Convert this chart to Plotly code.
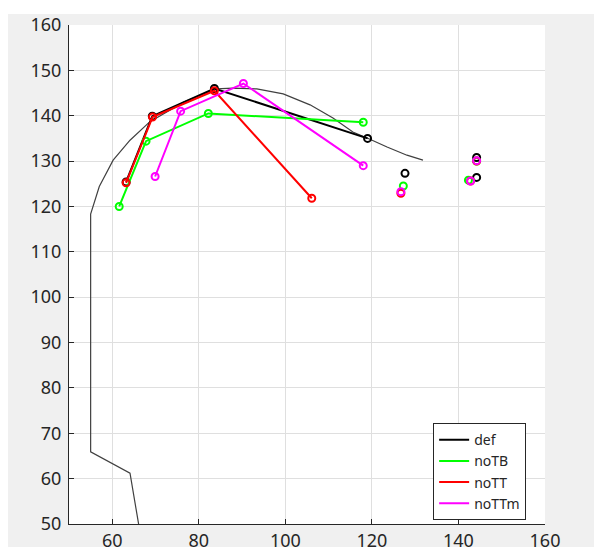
import plotly.graph_objects as go

# ---- data ----
outline_x = [66.6, 64.1, 55.0, 55.0, 57.0, 60.2, 64.1, 68.7, 76.5, 84.0, 87.9, 90.2, 93.4, 99.5, 105.7, 111.0, 115.6, 118.9, 123.5, 128.1, 131.8]
outline_y = [47.1, 61.2, 65.9, 118.3, 124.4, 130.2, 134.6, 138.7, 143.0, 145.9, 146.1, 146.0, 145.9, 144.8, 142.4, 139.5, 136.4, 135.1, 133.1, 131.3, 130.2]

def_x = [63.2, 69.25, 83.6, 119.0]
def_y = [125.4, 139.9, 146.0, 135.0]
def_px = [127.65, 144.2, 144.2]
def_py = [127.3, 130.8, 126.4]

noTB_x = [61.6, 67.8, 82.2, 118.0]
noTB_y = [120.0, 134.4, 140.5, 138.55]
noTB_px = [127.26, 142.3, 144.2]
noTB_py = [124.5, 125.8, 130.0]

noTT_x = [63.2, 69.3, 83.6, 106.1]
noTT_y = [125.2, 139.7, 145.5, 121.8]
noTT_px = [126.7, 142.8, 144.2]
noTT_py = [122.9, 125.6, 130.0]

noTTm_x = [69.9, 75.8, 90.3, 118.0]
noTTm_y = [126.6, 141.0, 147.1, 129.0]
noTTm_px = [126.7, 142.8, 144.2]
noTTm_py = [123.25, 125.6, 130.1]

series = [
    ("def", def_x, def_y, def_px, def_py, "#000000"),
    ("noTB", noTB_x, noTB_y, noTB_px, noTB_py, "#00ff00"),
    ("noTT", noTT_x, noTT_y, noTT_px, noTT_py, "#ff0000"),
    ("noTTm", noTTm_x, noTTm_y, noTTm_px, noTTm_py, "#ff00ff"),
]

x_ticks = [60, 80, 100, 120, 140, 160]
y_ticks = [50, 60, 70, 80, 90, 100, 110, 120, 130, 140, 150, 160]

fig = go.Figure()
fig.add_trace(go.Scatter(x=outline_x, y=outline_y, mode="lines",
                         line=dict(color="rgb(64,64,64)", width=1.2),
                         showlegend=False, hoverinfo="skip"))
for name, x, y, px, py, c in series:
    mk = dict(symbol="circle-open", size=7, color=c, line=dict(color=c, width=2))
    fig.add_trace(go.Scatter(x=x, y=y, mode="lines", name=name,
                             line=dict(color=c, width=2)))
    fig.add_trace(go.Scatter(x=x, y=y, mode="markers", showlegend=False, marker=mk))
    fig.add_trace(go.Scatter(x=px, y=py, mode="markers", showlegend=False, marker=mk))

ax_common = dict(showgrid=True, gridcolor="rgb(223,223,223)", gridwidth=1,
                 showline=True, linecolor="#262626", linewidth=1, mirror=False,
                 ticks="inside", ticklen=5, tickcolor="#262626", zeroline=False,
                 automargin=False,
                 tickfont=dict(family="Noto Sans", size=18, color="#262626"))

fig.update_xaxes(range=[50, 160], tickvals=x_ticks, **ax_common)
fig.update_yaxes(range=[50, 160], tickvals=y_ticks, ticklabelstandoff=3, **ax_common)

fig.update_layout(
    width=602, height=547,
    margin=dict(l=61, r=65, t=17, b=31, autoexpand=False),
    paper_bgcolor="#f0f0f0", plot_bgcolor="white",
    legend=dict(x=0.765, y=0.105, xanchor="left", yanchor="middle",
                bgcolor="white", bordercolor="#262626", borderwidth=1,
                font=dict(family="Noto Sans", size=14, color="#262626"),
                tracegroupgap=0),
    shapes=[
        dict(type="rect", xref="paper", yref="paper", x0=-0.13, x1=1.15,
             y0=1.022, y1=1.04, fillcolor="white", line=dict(width=0)),
    ],
)

fig.write_html("out.html")
